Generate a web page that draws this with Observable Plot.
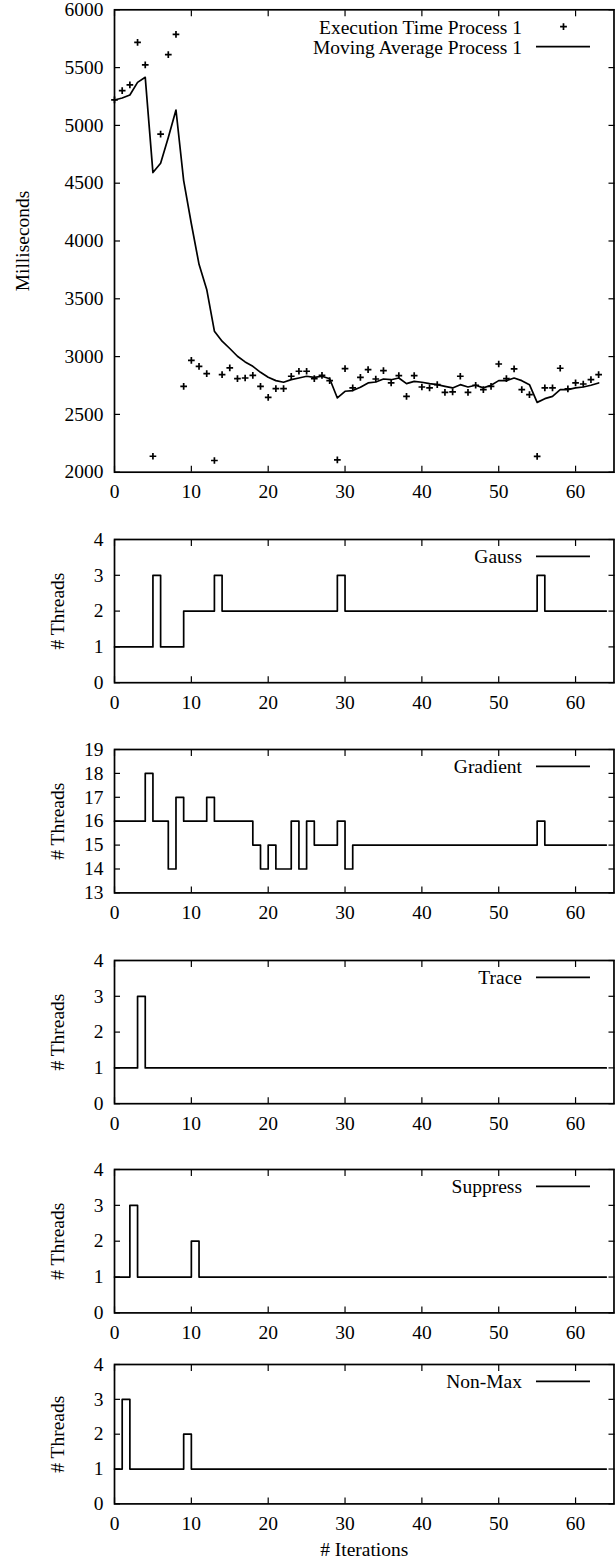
<!DOCTYPE html>
<html>
<head>
<meta charset="utf-8">
<script src="https://cdn.jsdelivr.net/npm/d3@7"></script>
<script src="https://cdn.jsdelivr.net/npm/@observablehq/plot@0.6"></script>
<style>
  body { margin: 0; background: #fff; }
  #chart { position: relative; width: 615px; height: 1563px; background: #fff; overflow: hidden; }
  #chart svg { position: absolute; left: 0; }
</style>
</head>
<body>
<div id="chart"></div>
<script>
// ---------- data ----------
const iterations = [0,1,2,3,4,5,6,7,8,9,10,11,12,13,14,15,16,17,18,19,20,21,22,23,24,25,26,27,28,29,30,31,32,33,34,35,36,37,38,39,40,41,42,43,44,45,46,47,48,49,50,51,52,53,54,55,56,57,58,59,60,61,62,63];
const execTime = [5220,5300,5350,5719,5523,2138,4925,5612,5788,2743,2968,2916,2853,2101,2844,2902,2810,2815,2838,2743,2648,2723,2723,2830,2873,2873,2810,2838,2792,2107,2896,2729,2821,2888,2806,2879,2772,2836,2656,2836,2737,2729,2757,2691,2694,2830,2691,2752,2714,2743,2936,2810,2893,2714,2671,2136,2729,2729,2899,2720,2772,2763,2801,2844];
const movingAvg = [5220,5237,5263,5372,5416,4592,4673,4896,5133,4523,4149,3798,3581,3220,3133,3070,3003,2954,2916,2864,2821,2792,2778,2801,2815,2830,2821,2830,2808,2642,2700,2706,2734,2772,2780,2806,2800,2815,2766,2786,2778,2766,2757,2743,2729,2757,2737,2752,2729,2752,2792,2792,2815,2792,2757,2604,2636,2656,2714,2714,2729,2737,2752,2772];

const threadIterations = [0,1,2,3,4,5,6,7,8,9,10,11,12,13,14,15,16,17,18,19,20,21,22,23,24,25,26,27,28,29,30,31,32,33,34,35,36,37,38,39,40,41,42,43,44,45,46,47,48,49,50,51,52,53,54,55,56,57,58,59,60,61,62,63,64];
const gaussThreads    = [1,1,1,1,1,3,1,1,1,2,2,2,2,3,2,2,2,2,2,2,2,2,2,2,2,2,2,2,2,3,2,2,2,2,2,2,2,2,2,2,2,2,2,2,2,2,2,2,2,2,2,2,2,2,2,3,2,2,2,2,2,2,2,2,2];
const gradientThreads = [16,16,16,16,18,16,16,14,17,16,16,16,17,16,16,16,16,16,15,14,15,14,14,16,14,16,15,15,15,16,14,15,15,15,15,15,15,15,15,15,15,15,15,15,15,15,15,15,15,15,15,15,15,15,15,16,15,15,15,15,15,15,15,15,15];
const traceThreads    = [1,1,1,3,1,1,1,1,1,1,1,1,1,1,1,1,1,1,1,1,1,1,1,1,1,1,1,1,1,1,1,1,1,1,1,1,1,1,1,1,1,1,1,1,1,1,1,1,1,1,1,1,1,1,1,1,1,1,1,1,1,1,1,1,1];
const suppressThreads = [1,1,3,1,1,1,1,1,1,1,2,1,1,1,1,1,1,1,1,1,1,1,1,1,1,1,1,1,1,1,1,1,1,1,1,1,1,1,1,1,1,1,1,1,1,1,1,1,1,1,1,1,1,1,1,1,1,1,1,1,1,1,1,1,1];
const nonMaxThreads   = [1,3,1,1,1,1,1,1,1,2,1,1,1,1,1,1,1,1,1,1,1,1,1,1,1,1,1,1,1,1,1,1,1,1,1,1,1,1,1,1,1,1,1,1,1,1,1,1,1,1,1,1,1,1,1,1,1,1,1,1,1,1,1,1,1];

const xTicks = [0,10,20,30,40,50,60];
const msTicks = [2000,2500,3000,3500,4000,4500,5000,5500,6000];
const threadTicks = [0,1,2,3,4];
const gradientTicks = [13,14,15,16,17,18,19];

// ---------- helpers ----------
const FONT = '"Liberation Serif", "Times New Roman", Times, serif';
const FS = 19.5;
const SW = 1.7;

function legendMark(entries) {
  return (index, scales, values, dims) => {
    const g = d3.create("svg:g")
      .attr("font-family", FONT)
      .attr("font-size", FS + "px")
      .attr("fill", "black");
    const right = dims.width - dims.marginRight;
    entries.forEach((e, i) => {
      const y = dims.marginTop + 17.4 + i * 20;
      g.append("text")
        .attr("x", right - 91.5).attr("y", y).attr("dy", "0.35em")
        .attr("text-anchor", "end").text(e.label);
      if (e.kind === "line") {
        g.append("line")
          .attr("x1", right - 77.5).attr("x2", right - 23.5)
          .attr("y1", y).attr("y2", y)
          .attr("stroke", "black").attr("stroke-width", SW);
      } else {
        const cx = right - 50;
        g.append("path")
          .attr("d", `M${cx - 3.4},${y}H${cx + 3.4}M${cx},${y - 3.4}V${y + 3.4}`)
          .attr("stroke", "black").attr("stroke-width", SW).attr("fill", "none");
      }
    });
    return g.node();
  };
}

function panel({top, frameHeight, marginTop, marginBottom, yDomain, yTicks, ylabel, labelOffset, xlabel, marks, legend}) {
  const svg = Plot.plot({
    width: 615,
    height: marginTop + frameHeight + marginBottom,
    marginLeft: 114,
    marginRight: 1.5,
    marginTop,
    marginBottom,
    style: {fontFamily: FONT, fontSize: FS + "px", color: "black", background: "transparent", overflow: "visible"},
    x: {domain: [0, 65]},
    y: {domain: yDomain},
    marks: [
      Plot.frame({stroke: "black", strokeWidth: SW}),
      Plot.axisX({anchor: "bottom", ticks: xTicks, tickSize: -6, tickPadding: 18, tickFormat: "d",
        fontFamily: FONT, fontSize: FS,
        label: xlabel ?? null, labelAnchor: "center", labelOffset: 52, labelArrow: "none", strokeWidth: 1.2}),
      Plot.axisX({anchor: "top", ticks: xTicks, tickSize: -6, tickFormat: () => "", label: null, strokeWidth: 1.2}),
      Plot.axisY({anchor: "left", ticks: yTicks, tickSize: -6, tickPadding: 17, tickFormat: "d",
        fontFamily: FONT, fontSize: FS,
        label: ylabel, labelAnchor: "center", labelOffset, labelArrow: "none", strokeWidth: 1.2}),
      Plot.axisY({anchor: "right", ticks: yTicks, tickSize: -6, tickFormat: () => "", label: null, strokeWidth: 1.2}),
      ...marks,
      legendMark(legend)
    ]
  });
  svg.style.top = (top - marginTop) + "px";
  document.getElementById("chart").appendChild(svg);
}

function stepMarks(values) {
  return [Plot.line(threadIterations, {x: d => d, y: (d, i) => values[i], curve: "step-after", stroke: "black", strokeWidth: SW})];
}

// ---------- panels ----------
panel({
  top: 9.3, frameHeight: 462.4, marginTop: 9.3, marginBottom: 40,
  yDomain: [2000, 6000], yTicks: msTicks, ylabel: "Milliseconds", labelOffset: 99,
  marks: [
    Plot.line(iterations, {x: d => d, y: (d, i) => movingAvg[i], stroke: "black", strokeWidth: SW}),
    Plot.dot(iterations, {x: d => d, y: (d, i) => execTime[i], symbol: "plus", r: 2.3, stroke: "black", strokeWidth: SW})
  ],
  legend: [{label: "Execution Time Process 1", kind: "plus"}, {label: "Moving Average Process 1", kind: "line"}]
});

const TH_OFFSET = 64;

panel({
  top: 538.5, frameHeight: 143.2, marginTop: 12, marginBottom: 40,
  yDomain: [0, 4], yTicks: threadTicks, ylabel: "# Threads", labelOffset: TH_OFFSET,
  marks: stepMarks(gaussThreads), legend: [{label: "Gauss", kind: "line"}]
});

panel({
  top: 749.3, frameHeight: 143.4, marginTop: 12, marginBottom: 40,
  yDomain: [13, 19], yTicks: gradientTicks, ylabel: "# Threads", labelOffset: TH_OFFSET,
  marks: stepMarks(gradientThreads), legend: [{label: "Gradient", kind: "line"}]
});

panel({
  top: 959.5, frameHeight: 143.2, marginTop: 12, marginBottom: 40,
  yDomain: [0, 4], yTicks: threadTicks, ylabel: "# Threads", labelOffset: TH_OFFSET,
  marks: stepMarks(traceThreads), legend: [{label: "Trace", kind: "line"}]
});

panel({
  top: 1169.3, frameHeight: 143.4, marginTop: 12, marginBottom: 40,
  yDomain: [0, 4], yTicks: threadTicks, ylabel: "# Threads", labelOffset: TH_OFFSET,
  marks: stepMarks(suppressThreads), legend: [{label: "Suppress", kind: "line"}]
});

panel({
  top: 1364.3, frameHeight: 139.4, marginTop: 12, marginBottom: 59,
  yDomain: [0, 4], yTicks: threadTicks, ylabel: "# Threads", labelOffset: TH_OFFSET, xlabel: "# Iterations",
  marks: stepMarks(nonMaxThreads), legend: [{label: "Non-Max", kind: "line"}]
});
</script>
</body>
</html>
